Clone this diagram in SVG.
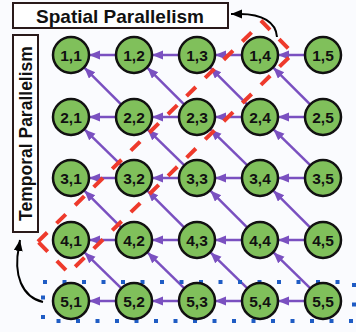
<svg xmlns="http://www.w3.org/2000/svg" width="356" height="332" viewBox="0 0 356 332">
<style>
.node circle{fill:#80c05b;stroke:#111;stroke-width:2.5}
.node text{font-family:"Liberation Sans",Arial,sans-serif;font-weight:bold;font-size:15.5px;fill:#111;text-anchor:middle}
.p{stroke:#7a50c0;stroke-width:2.5;fill:none;marker-end:url(#pa)}
.lbl{font-family:"Liberation Sans",Arial,sans-serif;font-weight:bold;fill:#111;text-anchor:middle}
.box{fill:#fff;stroke:#2a1a1a;stroke-width:2}
</style>
<defs>
<marker id="pa" markerUnits="userSpaceOnUse" markerWidth="12" markerHeight="10" refX="11" refY="4.5" orient="auto"><path d="M0,0 L11,4.5 L0,9 z" fill="#7a50c0"/></marker>
<marker id="ba" markerUnits="userSpaceOnUse" markerWidth="12" markerHeight="10" refX="11" refY="4.5" orient="auto"><path d="M0,0 L11,4.5 L0,9 z" fill="#000"/></marker>
</defs>
<rect width="356" height="332" fill="#fafbfe"/>
<g id="spatial-label"><rect class="box" x="13" y="3" width="215" height="25"/><text class="lbl" x="120" y="22.5" font-size="19">Spatial Parallelism</text></g>
<g id="temporal-label"><rect class="box" x="13" y="35" width="25" height="197"/><text class="lbl" font-size="17.5" transform="translate(32,133.5) rotate(-90)">Temporal Parallelism</text></g>
<g id="connectors">
<line class="p" x1="305" y1="55" x2="278" y2="55"/><line class="p" x1="242" y1="55" x2="215" y2="55"/><line class="p" x1="179" y1="55" x2="152" y2="55"/><line class="p" x1="116" y1="55" x2="89" y2="55"/>
<line class="p" x1="305" y1="117" x2="278" y2="117"/><line class="p" x1="242" y1="117" x2="215" y2="117"/><line class="p" x1="179" y1="117" x2="152" y2="117"/><line class="p" x1="116" y1="117" x2="89" y2="117"/>
<line class="p" x1="305" y1="178" x2="278" y2="178"/><line class="p" x1="242" y1="178" x2="215" y2="178"/><line class="p" x1="179" y1="178" x2="152" y2="178"/><line class="p" x1="116" y1="178" x2="89" y2="178"/>
<line class="p" x1="305" y1="240" x2="278" y2="240"/><line class="p" x1="242" y1="240" x2="215" y2="240"/><line class="p" x1="179" y1="240" x2="152" y2="240"/><line class="p" x1="116" y1="240" x2="89" y2="240"/>
<line class="p" x1="305" y1="301" x2="278" y2="301"/><line class="p" x1="242" y1="301" x2="215" y2="301"/><line class="p" x1="179" y1="301" x2="152" y2="301"/><line class="p" x1="116" y1="301" x2="89" y2="301"/>
<g id="diagonals">
<line class="p" x1="121.1" y1="104.4" x2="84.3" y2="67.6"/><line class="p" x1="184.1" y1="104.4" x2="147.3" y2="67.6"/><line class="p" x1="247.1" y1="104.4" x2="210.3" y2="67.6"/><line class="p" x1="310.1" y1="104.4" x2="273.3" y2="67.6"/>
<line class="p" x1="121.4" y1="165.4" x2="84.5" y2="129.4"/><line class="p" x1="184.4" y1="165.4" x2="147.5" y2="129.4"/><line class="p" x1="247.4" y1="165.4" x2="210.5" y2="129.4"/><line class="p" x1="310.4" y1="165.4" x2="273.5" y2="129.4"/>
<line class="p" x1="121.1" y1="227.4" x2="84.3" y2="190.6"/><line class="p" x1="184.1" y1="227.4" x2="147.3" y2="190.6"/><line class="p" x1="247.1" y1="227.4" x2="210.3" y2="190.6"/><line class="p" x1="310.1" y1="227.4" x2="273.3" y2="190.6"/>
<line class="p" x1="121.4" y1="288.4" x2="84.5" y2="252.4"/><line class="p" x1="184.4" y1="288.4" x2="147.5" y2="252.4"/><line class="p" x1="247.4" y1="288.4" x2="210.5" y2="252.4"/><line class="p" x1="310.4" y1="288.4" x2="273.5" y2="252.4"/>
</g>
<path d="M277,37 C276,22 262,14 240,14 L231,14" fill="none" stroke="#000" stroke-width="2" marker-end="url(#ba)"/>
<path d="M43,302 C22,297 13,275 19,246 L20,240" fill="none" stroke="#000" stroke-width="2" marker-end="url(#ba)"/>
</g>
<rect x="43" y="282" width="311" height="39" fill="none" stroke="#1f5cc4" stroke-width="4" stroke-dasharray="4 15.5"/>
<rect x="-157" y="-22" width="314" height="44" transform="translate(165.5,147.5) rotate(-44.4)" fill="none" stroke="#ee3a2c" stroke-width="4" stroke-dasharray="13 13"/>
<g id="n11" class="node"><circle cx="71" cy="55" r="18"/><text x="71" y="60.5">1,1</text></g>
<g id="n12" class="node"><circle cx="134" cy="55" r="18"/><text x="134" y="60.5">1,2</text></g>
<g id="n13" class="node"><circle cx="197" cy="55" r="18"/><text x="197" y="60.5">1,3</text></g>
<g id="n14" class="node"><circle cx="260" cy="55" r="18"/><text x="260" y="60.5">1,4</text></g>
<g id="n15" class="node"><circle cx="323" cy="55" r="18"/><text x="323" y="60.5">1,5</text></g>
<g id="n21" class="node"><circle cx="71" cy="117" r="18"/><text x="71" y="122.5">2,1</text></g>
<g id="n22" class="node"><circle cx="134" cy="117" r="18"/><text x="134" y="122.5">2,2</text></g>
<g id="n23" class="node"><circle cx="197" cy="117" r="18"/><text x="197" y="122.5">2,3</text></g>
<g id="n24" class="node"><circle cx="260" cy="117" r="18"/><text x="260" y="122.5">2,4</text></g>
<g id="n25" class="node"><circle cx="323" cy="117" r="18"/><text x="323" y="122.5">2,5</text></g>
<g id="n31" class="node"><circle cx="71" cy="178" r="18"/><text x="71" y="183.5">3,1</text></g>
<g id="n32" class="node"><circle cx="134" cy="178" r="18"/><text x="134" y="183.5">3,2</text></g>
<g id="n33" class="node"><circle cx="197" cy="178" r="18"/><text x="197" y="183.5">3,3</text></g>
<g id="n34" class="node"><circle cx="260" cy="178" r="18"/><text x="260" y="183.5">3,4</text></g>
<g id="n35" class="node"><circle cx="323" cy="178" r="18"/><text x="323" y="183.5">3,5</text></g>
<g id="n41" class="node"><circle cx="71" cy="240" r="18"/><text x="71" y="245.5">4,1</text></g>
<g id="n42" class="node"><circle cx="134" cy="240" r="18"/><text x="134" y="245.5">4,2</text></g>
<g id="n43" class="node"><circle cx="197" cy="240" r="18"/><text x="197" y="245.5">4,3</text></g>
<g id="n44" class="node"><circle cx="260" cy="240" r="18"/><text x="260" y="245.5">4,4</text></g>
<g id="n45" class="node"><circle cx="323" cy="240" r="18"/><text x="323" y="245.5">4,5</text></g>
<g id="n51" class="node"><circle cx="71" cy="301" r="18"/><text x="71" y="306.5">5,1</text></g>
<g id="n52" class="node"><circle cx="134" cy="301" r="18"/><text x="134" y="306.5">5,2</text></g>
<g id="n53" class="node"><circle cx="197" cy="301" r="18"/><text x="197" y="306.5">5,3</text></g>
<g id="n54" class="node"><circle cx="260" cy="301" r="18"/><text x="260" y="306.5">5,4</text></g>
<g id="n55" class="node"><circle cx="323" cy="301" r="18"/><text x="323" y="306.5">5,5</text></g>
</svg>
